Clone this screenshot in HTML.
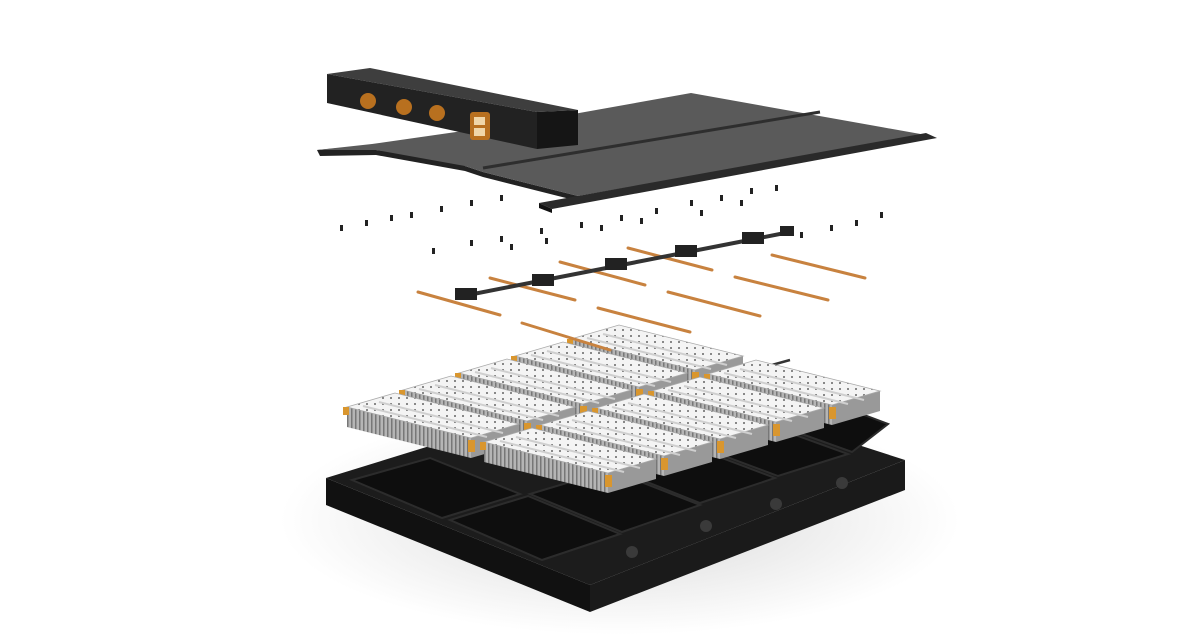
<!DOCTYPE html>
<html><head><meta charset="utf-8"><style>
html,body{margin:0;padding:0;background:#fff;width:1200px;height:640px;overflow:hidden}
</style></head><body>
<svg width="1200" height="640" viewBox="0 0 1200 640" xmlns="http://www.w3.org/2000/svg">
<defs>
<radialGradient id="sh" cx="0.5" cy="0.5" r="0.5"><stop offset="0" stop-color="#d8d8d8"/><stop offset="1" stop-color="#fff"/></radialGradient>
<pattern id="dots" width="8" height="6" patternUnits="userSpaceOnUse"><rect width="8" height="6" fill="#f4f4f4"/><circle cx="4" cy="3" r="1" fill="#666"/></pattern>
<pattern id="mesh" width="4" height="8" patternUnits="userSpaceOnUse"><rect width="4" height="8" fill="#b5b5b5"/><rect width="1.5" height="8" fill="#777"/></pattern>
<g id="m">
<polygon points="0,0 124,31 124,51 0,20" fill="url(#mesh)"/>
<polygon points="124,31 172,17 172,37 124,51" fill="#999"/>
<polygon points="0,0 48,-14 172,17 124,31" fill="url(#dots)" stroke="#aaa" stroke-width="0.8"/>
<line x1="16" y1="-1" x2="140" y2="30" stroke="#cfcfcf" stroke-width="2"/>
<line x1="32" y1="-5" x2="156" y2="26" stroke="#cfcfcf" stroke-width="2"/>
<rect x="121" y="33" width="7" height="12" fill="#d9962e"/>
<rect x="-4" y="0" width="6" height="8" fill="#d9962e"/>
</g>
</defs>
<ellipse cx="620" cy="520" rx="340" ry="115" fill="url(#sh)"/>
<!-- tray -->
<polygon points="326,478 326,505 590,612 590,585" fill="#111"/>
<polygon points="590,585 590,612 905,490 905,460" fill="#1a1a1a"/>
<polygon points="326,478 650,378 905,460 590,585" fill="#1c1c1c"/>
<g fill="#0e0e0e" stroke="#2c2c2c" stroke-width="2">
<polygon points="352,480 430,458 520,494 442,518"/>
<polygon points="450,520 528,496 620,534 542,560"/>
<polygon points="530,494 610,470 700,505 622,532"/>
<polygon points="612,468 690,446 775,478 700,503"/>
<polygon points="692,444 765,424 848,454 778,476"/>
<polygon points="768,422 835,404 888,424 852,452"/>
</g>
<g fill="#3a3a3a"><circle cx="632" cy="552" r="6"/><circle cx="706" cy="526" r="6"/><circle cx="776" cy="504" r="6"/><circle cx="842" cy="483" r="6"/></g>
<!-- cross beam (under) -->
<line x1="468" y1="448" x2="790" y2="360" stroke="#333" stroke-width="2.5"/>
<!-- modules row A (back to front) -->
<use href="#m" x="571" y="339"/>
<use href="#m" x="515" y="356"/>
<use href="#m" x="459" y="373"/>
<use href="#m" x="403" y="390"/>
<use href="#m" x="347" y="407"/>
<!-- row B -->
<use href="#m" x="708" y="374"/>
<use href="#m" x="652" y="391"/>
<use href="#m" x="596" y="408"/>
<use href="#m" x="540" y="425"/>
<use href="#m" x="484" y="442"/>
<!-- busbars -->
<g stroke="#c8823f" stroke-width="3" stroke-linecap="round">
<line x1="418" y1="292" x2="500" y2="315"/><line x1="522" y1="323" x2="610" y2="350"/>
<line x1="490" y1="278" x2="575" y2="300"/><line x1="598" y1="308" x2="690" y2="332"/>
<line x1="560" y1="262" x2="645" y2="285"/><line x1="668" y1="292" x2="760" y2="316"/>
<line x1="628" y1="248" x2="712" y2="270"/><line x1="735" y1="277" x2="828" y2="300"/>
<line x1="772" y1="255" x2="865" y2="278"/>
</g>
<line x1="458" y1="297" x2="790" y2="232" stroke="#333" stroke-width="4"/>
<g fill="#222"><rect x="455" y="288" width="22" height="12"/><rect x="532" y="274" width="22" height="12"/><rect x="605" y="258" width="22" height="12"/><rect x="675" y="245" width="22" height="12"/><rect x="742" y="232" width="22" height="12"/><rect x="780" y="226" width="14" height="10"/></g>
<!-- bolts -->
<g fill="#222">
<rect x="340" y="225" width="3" height="6"/><rect x="365" y="220" width="3" height="6"/><rect x="390" y="215" width="3" height="6"/><rect x="410" y="212" width="3" height="6"/><rect x="440" y="206" width="3" height="6"/><rect x="470" y="200" width="3" height="6"/><rect x="500" y="195" width="3" height="6"/>
<rect x="432" y="248" width="3" height="6"/><rect x="470" y="240" width="3" height="6"/><rect x="500" y="236" width="3" height="6"/><rect x="540" y="228" width="3" height="6"/><rect x="580" y="222" width="3" height="6"/><rect x="620" y="215" width="3" height="6"/><rect x="655" y="208" width="3" height="6"/><rect x="690" y="200" width="3" height="6"/><rect x="720" y="195" width="3" height="6"/><rect x="750" y="188" width="3" height="6"/><rect x="775" y="185" width="3" height="6"/>
<rect x="800" y="232" width="3" height="6"/><rect x="830" y="225" width="3" height="6"/><rect x="855" y="220" width="3" height="6"/><rect x="880" y="212" width="3" height="6"/>
<rect x="510" y="244" width="3" height="6"/><rect x="545" y="238" width="3" height="6"/><rect x="600" y="225" width="3" height="6"/><rect x="640" y="218" width="3" height="6"/><rect x="700" y="210" width="3" height="6"/><rect x="740" y="200" width="3" height="6"/>
</g>
<!-- top plate -->
<polygon points="317,150 371,145 376,150 460,160 465,166 483,172 578,196 578,201 483,177 465,171 376,155 320,156" fill="#222"/>
<polygon points="317,150 372,144 540,120 691,93 926,135 578,196 483,172 465,166 376,150" fill="#5a5a5a"/>
<line x1="483" y1="168" x2="820" y2="112" stroke="#2e2e2e" stroke-width="3"/>
<polygon points="539,203 926,133 937,138 552,209" fill="#2a2a2a"/>
<polygon points="539,203 552,209 552,213 539,208" fill="#111"/>
<!-- box -->
<polygon points="327,74 370,68 578,110 537,112" fill="#3e3e3e"/>
<polygon points="327,74 537,112 537,149 327,103" fill="#222"/>
<polygon points="537,112 578,110 578,145 537,149" fill="#151515"/>
<g fill="#b8701f"><circle cx="368" cy="101" r="8"/><circle cx="404" cy="107" r="8"/><circle cx="437" cy="113" r="8"/><rect x="470" y="112" width="20" height="28" rx="3"/></g>
<rect x="474" y="117" width="11" height="8" fill="#f0d6a8"/><rect x="474" y="128" width="11" height="8" fill="#f0d6a8"/>
</svg>
</body></html>
